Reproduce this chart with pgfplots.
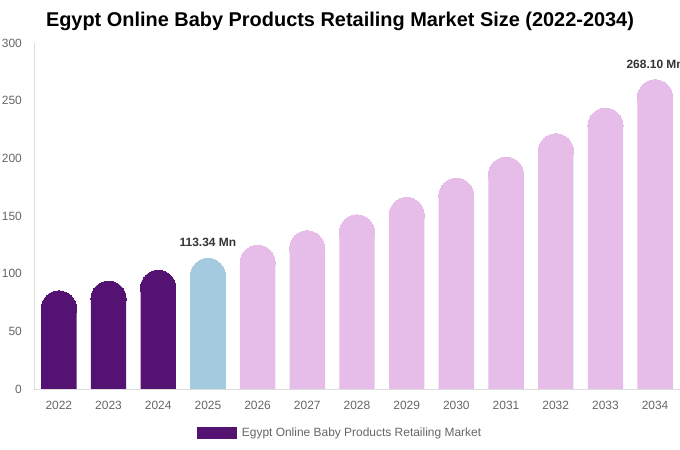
\documentclass[border=0pt]{standalone}
\usepackage{pgfplots}
\usepackage{pgfplotstable}
\pgfplotsset{compat=1.18}
\usepackage{fontspec}
\setmainfont{Liberation Sans}

\definecolor{darkpurple}{HTML}{541273}
\definecolor{lightblue}{HTML}{A3CADF}
\definecolor{lightpink}{HTML}{E6BCE8}
\definecolor{axisgray}{HTML}{DDDDDD}
\definecolor{tickgray}{HTML}{666666}
\definecolor{labelgray}{HTML}{333333}

% bar radius in data units (17.6bp / 1.1533bp per unit)
\newcommand{\rr}{15.26}

\pgfplotstableread{
year val
2022 85.1
2023 93.6
2024 103.0
}\histdata
\pgfplotstableread{
year val
2025 113.34
}\basedata
\pgfplotstableread{
year val
2026 124.7
2027 137.2
2028 151.0
2029 166.1
2030 182.8
2031 201.1
2032 221.3
2033 243.6
2034 268.10
}\foredata

\begin{document}
\begin{tikzpicture}[x=1bp,y=1bp]
\begin{axis}[
  at={(34bp,61bp)}, anchor=south west,
  scale only axis,
  width=646bp, height=346bp,
  xmin=2021.5, xmax=2034.5,
  ymin=0, ymax=300,
  xtick={2022,...,2034},
  ytick={0,50,...,300},
  xticklabel style={/pgf/number format/1000 sep=, anchor=north, inner sep=0pt},
  yticklabel style={anchor=east, inner sep=0pt},
  xticklabel shift=12bp,
  yticklabel shift=12bp,
  /pgf/number format/assume math mode=true,
  tick label style={font=\fontsize{12}{14}\selectfont, text=tickgray},
  major tick length=0pt,
  axis lines=left,
  x axis line style={draw=axisgray, -},
  y axis line style={draw=axisgray, -},
  clip=false,
  legend style={at={(0.4737,-0.127)}, anchor=center, draw=none,
    font=\fontsize{12}{14}\selectfont, text=tickgray},
  legend cell align=left,
  bar/.style={ybar, bar width=35.4bp, bar shift=0pt, fill=#1, draw=none},
  cap/.style={only marks, mark=*, mark size=17.6bp, color=#1,
    mark options={line width=0pt}, forget plot},
]
% historic bars
\addplot[bar=darkpurple,
  legend image code/.code={\fill[darkpurple] (0bp,-6bp) rectangle (40bp,6bp);\path (43bp,0bp);}]
  table[x=year, y expr=\thisrow{val}-\rr] {\histdata};
\addlegendentry{Egypt Online Baby Products Retailing Market}
\addplot[cap=darkpurple] table[x=year, y expr=\thisrow{val}-\rr] {\histdata};

% base year
\addplot[bar=lightblue, forget plot] table[x=year, y expr=\thisrow{val}-\rr] {\basedata};
\addplot[cap=lightblue] table[x=year, y expr=\thisrow{val}-\rr] {\basedata};

% forecast
\addplot[bar=lightpink, forget plot] table[x=year, y expr=\thisrow{val}-\rr] {\foredata};
\addplot[cap=lightpink] table[x=year, y expr=\thisrow{val}-\rr] {\foredata};

% value labels
\node[font=\bfseries\fontsize{12}{14}\selectfont, text=labelgray] at (axis cs:2025,126.9) {113.34 Mn};
\node[font=\bfseries\fontsize{12}{14}\selectfont, text=labelgray] at (axis cs:2034,281.4) {268.10 Mn};
\end{axis}

\node[font=\bfseries\fontsize{20}{24}\selectfont] at (340bp,429bp)
  {Egypt Online Baby Products Retailing Market Size (2022-2034)};

\pgfresetboundingbox
\path (0,0) rectangle (680,450);
\end{tikzpicture}
\end{document}
